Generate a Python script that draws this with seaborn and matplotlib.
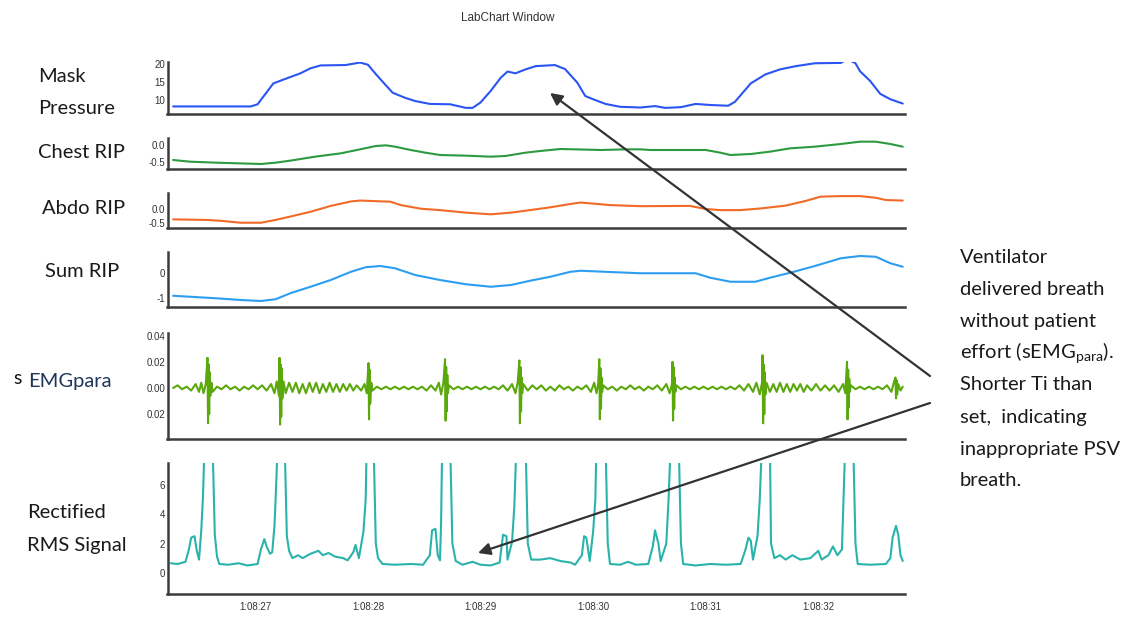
import pandas as pd
import matplotlib.pyplot as plt
import seaborn as sns

# tiempos en segundos dentro del minuto 1:08
mask_t = [26.27, 26.96, 27.02, 27.16, 27.27, 27.40, 27.49, 27.58, 27.80, 27.93, 28.00, 28.07,
          28.15, 28.22, 28.33, 28.42, 28.55, 28.73, 28.87, 28.93, 29.00, 29.09, 29.18, 29.24,
          29.31, 29.40, 29.49, 29.66, 29.75, 29.86, 29.93, 30.00, 30.11, 30.24, 30.42, 30.55,
          30.64, 30.78, 30.91, 31.04, 31.20, 31.26, 31.40, 31.53, 31.66, 31.80, 31.97, 32.20,
          32.24, 32.28, 32.33, 32.37, 32.46, 32.55, 32.64, 32.75]
mask_v = [8.2, 8.2, 8.8, 14.6, 15.9, 17.4, 18.8, 19.6, 19.7, 20.4, 19.8, 17.2,
          14.4, 12.0, 10.6, 9.7, 8.9, 8.8, 7.8, 7.8, 9.3, 12.5, 16.2, 17.9,
          17.4, 18.5, 19.4, 19.7, 18.6, 14.8, 11.1, 10.2, 8.9, 8.1, 7.9, 8.3,
          7.8, 8.0, 8.9, 8.6, 8.4, 9.5, 14.6, 17.1, 18.5, 19.4, 20.2, 20.3,
          21.0, 21.0, 20.2, 18.0, 15.3, 11.7, 10.2, 9.0]

chest_t = [26.27, 26.42, 26.65, 27.05, 27.18, 27.31, 27.53, 27.76, 27.93, 28.07, 28.16, 28.24,
           28.38, 28.51, 28.64, 28.87, 29.09, 29.22, 29.40, 29.53, 29.71, 29.84, 30.07, 30.29,
           30.42, 30.51, 31.00, 31.13, 31.22, 31.40, 31.57, 31.75, 31.97, 32.20, 32.37, 32.51,
           32.64, 32.75]
chest_v = [-0.45, -0.50, -0.53, -0.57, -0.53, -0.47, -0.35, -0.25, -0.13, -0.03, -0.01, -0.05,
           -0.15, -0.23, -0.30, -0.32, -0.35, -0.33, -0.23, -0.18, -0.12, -0.13, -0.15, -0.13,
           -0.13, -0.15, -0.15, -0.23, -0.30, -0.27, -0.20, -0.10, -0.05, 0.03, 0.10, 0.10,
           0.03, -0.05]

abdo_t = [26.27, 26.56, 26.69, 26.87, 27.05, 27.18, 27.31, 27.49, 27.67, 27.85, 27.93, 28.20,
          28.29, 28.47, 28.64, 28.87, 29.09, 29.27, 29.44, 29.62, 29.80, 29.89, 30.15, 30.42,
          30.86, 31.00, 31.13, 31.31, 31.49, 31.71, 31.89, 32.02, 32.20, 32.37, 32.51, 32.60,
          32.75]
abdo_v = [-0.37, -0.39, -0.42, -0.49, -0.49, -0.39, -0.27, -0.10, 0.11, 0.27, 0.30, 0.26,
          0.14, 0.01, -0.04, -0.13, -0.19, -0.13, -0.04, 0.06, 0.18, 0.23, 0.14, 0.10,
          0.11, 0.00, -0.04, -0.04, 0.02, 0.12, 0.29, 0.44, 0.46, 0.46, 0.40, 0.32,
          0.30]

sum_t = [26.27, 26.42, 26.65, 26.87, 27.05, 27.18, 27.31, 27.49, 27.67, 27.85, 27.98, 28.11,
         28.24, 28.42, 28.64, 28.87, 29.09, 29.27, 29.44, 29.62, 29.80, 29.89, 30.20, 30.42,
         30.91, 31.04, 31.22, 31.44, 31.57, 31.75, 31.97, 32.20, 32.37, 32.51, 32.64, 32.75]
sum_v = [-0.91, -0.95, -1.01, -1.08, -1.12, -1.05, -0.81, -0.55, -0.28, 0.05, 0.23, 0.28,
         0.19, -0.08, -0.28, -0.45, -0.55, -0.48, -0.31, -0.15, 0.05, 0.09, 0.03, -0.01,
         -0.01, -0.19, -0.35, -0.35, -0.19, 0.01, 0.28, 0.59, 0.68, 0.65, 0.39, 0.25]

emg_t = [26.27, 26.31, 26.35, 26.39, 26.43, 26.47, 26.50, 26.52, 26.54, 26.56,
         26.575, 26.58, 26.585, 26.59, 26.595, 26.60, 26.61, 26.62,
         26.66, 26.70, 26.74, 26.78, 26.82, 26.86, 26.90, 26.94, 26.98, 27.02, 27.06, 27.10,
         27.14, 27.17, 27.19, 27.21,
         27.215, 27.22, 27.225, 27.23, 27.235, 27.24, 27.25,
         27.27, 27.30, 27.33, 27.36, 27.39, 27.42, 27.45, 27.48, 27.51, 27.54, 27.57, 27.60,
         27.63, 27.66, 27.69, 27.72, 27.75, 27.78, 27.81, 27.84, 27.87, 27.90, 27.94, 27.97, 27.99,
         28.005, 28.01, 28.015, 28.02, 28.03, 28.04,
         28.08, 28.12, 28.16, 28.20, 28.24, 28.28, 28.32, 28.36, 28.40, 28.44, 28.48, 28.52,
         28.56, 28.60, 28.63, 28.65, 28.67,
         28.685, 28.69, 28.695, 28.70, 28.705, 28.71, 28.72,
         28.76, 28.80, 28.84, 28.88, 28.92, 28.96, 29.00, 29.04, 29.08, 29.12, 29.16, 29.20,
         29.24, 29.28, 29.31, 29.33,
         29.345, 29.35, 29.355, 29.36, 29.365, 29.37, 29.38,
         29.42, 29.46, 29.50, 29.54, 29.58, 29.62, 29.66, 29.70, 29.74, 29.78, 29.82, 29.86,
         29.90, 29.94, 29.98, 30.01, 30.03, 30.045,
         30.055, 30.06, 30.065, 30.07, 30.075, 30.08, 30.09,
         30.13, 30.17, 30.21, 30.25, 30.29, 30.33, 30.37, 30.41, 30.45, 30.49, 30.53, 30.57,
         30.61, 30.65, 30.68, 30.70,
         30.705, 30.71, 30.715, 30.72, 30.725, 30.73, 30.74,
         30.78, 30.82, 30.86, 30.90, 30.94, 30.98, 31.02, 31.06, 31.10, 31.14, 31.18, 31.22,
         31.26, 31.30, 31.34, 31.38, 31.42, 31.45, 31.48, 31.50,
         31.505, 31.51, 31.515, 31.52, 31.525, 31.53, 31.54,
         31.57, 31.60, 31.63, 31.66, 31.69, 31.72, 31.75, 31.78, 31.81, 31.84, 31.87, 31.90,
         31.94, 31.98, 32.02, 32.06, 32.10, 32.14, 32.18, 32.22, 32.24,
         32.255, 32.26, 32.265, 32.27, 32.275, 32.28, 32.29,
         32.33, 32.37, 32.41, 32.45, 32.49, 32.53, 32.57, 32.61, 32.65, 32.67,
         32.685, 32.69, 32.695, 32.70, 32.71, 32.73, 32.75]
emg_v = [0.000, 0.002, -0.001, 0.001, -0.002, 0.003, -0.003, 0.004, -0.004, 0.003,
         0.023, -0.027, 0.018, -0.020, 0.012, -0.006, 0.004, -0.003,
         0.001, -0.001, 0.002, -0.001, 0.001, -0.002, 0.001, -0.001, 0.002, -0.001, 0.002, -0.002,
         0.003, -0.004, 0.005, -0.006,
         0.023, -0.028, 0.018, -0.022, 0.015, -0.008, 0.005,
         -0.004, 0.004, -0.003, 0.004, -0.004, 0.003, -0.004, 0.004, -0.003, 0.004, -0.004, 0.003,
         -0.003, 0.004, -0.003, 0.003, -0.003, 0.003, -0.002, 0.003, -0.002, 0.002, -0.002, 0.003, -0.004,
         0.019, -0.024, 0.014, -0.012, 0.004, -0.002,
         0.001, -0.001, 0.001, -0.001, 0.001, -0.001, 0.001, -0.001, 0.001, -0.001, 0.001, -0.002,
         0.002, -0.002, 0.004, -0.005, 0.004,
         0.022, -0.025, 0.016, -0.018, 0.010, -0.004, 0.002,
         -0.001, 0.001, -0.001, 0.001, -0.001, 0.001, -0.001, 0.001, -0.001, 0.001, -0.001, 0.002,
         -0.002, 0.003, -0.004, 0.004,
         0.021, -0.027, 0.016, -0.018, 0.008, -0.004, 0.003,
         -0.002, 0.002, -0.001, 0.002, -0.002, 0.001, -0.002, 0.002, -0.001, 0.001, -0.002, 0.001,
         -0.001, 0.002, -0.003, 0.004, -0.004, 0.003,
         0.022, -0.024, 0.015, -0.016, 0.008, -0.003, 0.002,
         -0.001, 0.001, -0.002, 0.001, -0.001, 0.002, -0.001, 0.001, -0.002, 0.001, -0.001, 0.002,
         -0.002, 0.003, -0.004, 0.003,
         0.020, -0.025, 0.016, -0.016, 0.008, -0.003, 0.002,
         -0.001, 0.001, -0.001, 0.001, -0.001, 0.001, -0.001, 0.001, -0.001, 0.001, -0.001, 0.001,
         -0.001, 0.002, -0.002, 0.003, -0.003, 0.004, -0.005, 0.004,
         0.025, -0.027, 0.018, -0.020, 0.012, -0.005, 0.004,
         -0.003, 0.003, -0.003, 0.004, -0.003, 0.003, -0.003, 0.003, -0.002, 0.003, -0.003, 0.002,
         -0.002, 0.003, -0.002, 0.002, -0.002, 0.002, -0.003, 0.003, -0.004,
         0.020, -0.024, 0.014, -0.015, 0.007, -0.003, 0.002,
         -0.001, 0.001, -0.001, 0.001, -0.001, 0.001, -0.001, 0.002, -0.003, 0.004,
         0.008, -0.008, 0.006, -0.005, 0.003, -0.002, 0.001]

rms_t = [26.25, 26.31, 26.38, 26.41, 26.43, 26.46, 26.48, 26.50, 26.52, 26.535, 26.55, 26.62,
         26.64, 26.66, 26.68, 26.76, 26.85, 26.93, 27.02, 27.05, 27.08, 27.10, 27.13, 27.15,
         27.17, 27.18, 27.20, 27.26, 27.28, 27.30, 27.33, 27.38, 27.42, 27.49, 27.56, 27.60,
         27.65, 27.71, 27.78, 27.82, 27.87, 27.89, 27.92, 27.96, 27.98, 27.99, 28.05, 28.07,
         28.09, 28.13, 28.24, 28.38, 28.49, 28.55, 28.57, 28.60, 28.62, 28.64, 28.65, 28.66,
         28.73, 28.75, 28.78, 28.84, 28.93, 29.00, 29.09, 29.17, 29.20, 29.23, 29.24, 29.28,
         29.30, 29.32, 29.40, 29.42, 29.45, 29.53, 29.62, 29.71, 29.80, 29.84, 29.90, 29.92,
         29.94, 29.97, 30.00, 30.02, 30.03, 30.11, 30.13, 30.15, 30.24, 30.31, 30.38, 30.49,
         30.53, 30.55, 30.58, 30.60, 30.65, 30.67, 30.69, 30.76, 30.78, 30.80, 30.91, 31.04,
         31.18, 31.31, 31.35, 31.38, 31.40, 31.42, 31.46, 31.48, 31.50, 31.57, 31.58, 31.61,
         31.66, 31.71, 31.77, 31.84, 31.93, 32.00, 32.03, 32.09, 32.13, 32.17, 32.21, 32.22,
         32.24, 32.31, 32.33, 32.35, 32.46, 32.60, 32.64, 32.66, 32.69, 32.71, 32.73, 32.75]
rms_v = [0.65, 0.6, 0.75, 1.6, 2.4, 2.5, 1.5, 0.9, 2.9, 5.2, 9.0, 9.0,
         2.6, 1.1, 0.6, 0.55, 0.65, 0.5, 0.6, 1.6, 2.3, 1.8, 1.3, 1.4,
         3.2, 5.0, 9.0, 9.0, 2.5, 1.5, 1.0, 1.2, 1.0, 1.3, 1.5, 1.2,
         1.35, 1.1, 1.0, 0.85, 1.4, 1.9, 1.0, 2.8, 5.0, 9.0, 9.0, 2.0,
         1.0, 0.6, 0.55, 0.6, 0.55, 1.2, 2.9, 3.0, 1.2, 0.85, 3.5, 9.0,
         9.0, 2.0, 0.8, 0.55, 0.75, 0.55, 0.5, 0.7, 2.6, 2.5, 0.9, 2.1,
         4.5, 9.0, 9.0, 2.0, 0.9, 0.9, 1.0, 0.8, 0.7, 0.55, 1.2, 2.5,
         2.4, 0.8, 2.8, 5.0, 9.0, 9.0, 2.0, 0.6, 0.55, 0.75, 0.55, 0.6,
         1.8, 2.9, 2.0, 0.8, 2.0, 5.0, 9.0, 9.0, 2.0, 0.6, 0.5, 0.6,
         0.55, 0.6, 1.5, 2.4, 2.2, 0.9, 2.5, 5.0, 9.0, 9.0, 2.0, 1.0,
         1.2, 0.9, 1.2, 0.9, 1.0, 1.5, 0.9, 1.2, 1.8, 1.2, 1.6, 4.0,
         9.0, 9.0, 2.0, 0.6, 0.55, 0.6, 1.0, 2.4, 3.2, 2.6, 1.2, 0.8]

x_ticks = [27, 28, 29, 30, 31, 32]
x_labels = ['1:08:27', '1:08:28', '1:08:29', '1:08:30', '1:08:31', '1:08:32']

sns.set_style("white")
plt.rcParams['font.family'] = ['Lato', 'DejaVu Sans']
plt.rcParams['mathtext.fontset'] = 'custom'
plt.rcParams['mathtext.rm'] = 'Lato'
plt.rcParams['mathtext.it'] = 'Lato:italic'

W, H = 1134, 621
fig = plt.figure(figsize=(W / 100, H / 100), dpi=100)
fig.patch.set_facecolor('white')

# (tiempos, valores, color, (arriba, abajo) en px, ylim, ticks, etiquetas)
paneles = [
    (mask_t, mask_v, '#2a55f2', (62, 114), (6.1, 20.55), [10, 15, 20], ['10', '15', '20']),
    (chest_t, chest_v, '#2d9a40', (138, 169), (-0.72, 0.21), [-0.5, 0.0], ['-0.5', '0.0']),
    (abdo_t, abdo_v, '#f26b26', (193, 227.5), (-0.66, 0.57), [-0.5, 0.0], ['-0.5', '0.0']),
    (sum_t, sum_v, '#2c9ef2', (252, 307), (-1.36, 0.84), [-1, 0], ['-1', '0']),
    (emg_t, emg_v, '#5aa80c', (333, 439), (-0.039, 0.042), [-0.02, 0.0, 0.02, 0.04],
     ['0.02', '0.00', '0.02', '0.04']),
    (rms_t, rms_v, '#2ab3ab', (463, 594), (-1.45, 7.5), [0, 2, 4, 6], ['0', '2', '4', '6']),
]

x0, x1 = 167.5, 905
axes = []
for t, v, color, (top, bottom), ylim, yt, ylab in paneles:
    ax = fig.add_axes([x0 / W, 1 - bottom / H, (x1 - x0) / W, (bottom - top) / H])
    df = pd.DataFrame({'t': t, 'v': v})
    sns.lineplot(data=df, x='t', y='v', ax=ax, color=color, lw=1.5,
                 estimator=None, sort=False)
    ax.set_xlim(26.22, 32.77)
    ax.set_ylim(*ylim)
    ax.set_yticks(yt)
    ax.set_yticklabels(ylab, fontfamily='Liberation Sans', fontsize=7, color='#333333')
    ax.tick_params(axis='y', length=0, pad=1.5)
    ax.set_xticks([])
    ax.set_xlabel('')
    ax.set_ylabel('')
    sns.despine(ax=ax)
    for s in ['left', 'bottom']:
        ax.spines[s].set_color('#3c3c3c')
        ax.spines[s].set_linewidth(1.8)
    axes.append(ax)

ax_rms = axes[-1]
ax_rms.set_xticks(x_ticks)
ax_rms.set_xticklabels(x_labels, fontfamily='Liberation Sans', fontsize=7, color='#333333')
ax_rms.tick_params(axis='x', length=4, width=1, color='#3c3c3c', pad=2)

fig.text(508 / W, 1 - 18 / H, 'LabChart Window', fontfamily='Liberation Sans',
         fontsize=8.5, color='#333333', ha='center', va='center')

etiquetas = [
    ('Mask', 38, 77), ('Pressure', 38, 108), ('Chest RIP', 38, 153),
    ('Abdo RIP', 42, 209), ('Sum RIP', 45, 272),
    ('Rectified', 27, 513), ('RMS Signal', 27, 546),
]
for txt, x, y in etiquetas:
    fig.text(x / W, 1 - y / H, txt, fontsize=14.5, color='#1a1a1a', ha='left', va='center')
fig.text(13 / W, 1 - 379 / H, 's', fontsize=14, color='#111111', ha='left', va='center')
fig.text(28 / W, 1 - 382 / H, 'EMGpara', fontsize=14.5, color='#1f3559', ha='left', va='center')

nota = ['Ventilator', 'delivered breath', 'without patient',
        r'effort (sEMG$_{\mathrm{para}}$).', 'Shorter Ti than', 'set,  indicating',
        'inappropriate PSV', 'breath.']
for i, linea in enumerate(nota):
    fig.text(960 / W, 1 - (257 + i * 32) / H, linea, fontsize=14.5, color='#1a1a1a',
             ha='left', va='center')

# flechas de la anotacion
for (xa, ya), (xb, yb) in [((930, 376), (550, 93)), ((930, 403), (478, 553))]:
    ax_rms.annotate('', xy=(xb / W, 1 - yb / H), xytext=(xa / W, 1 - ya / H),
                    xycoords='figure fraction', textcoords='figure fraction',
                    arrowprops=dict(arrowstyle='-|>', color='#333333', lw=1.6,
                                    mutation_scale=18, shrinkA=0, shrinkB=0),
                    annotation_clip=False)

plt.savefig('out.png', dpi=100)
